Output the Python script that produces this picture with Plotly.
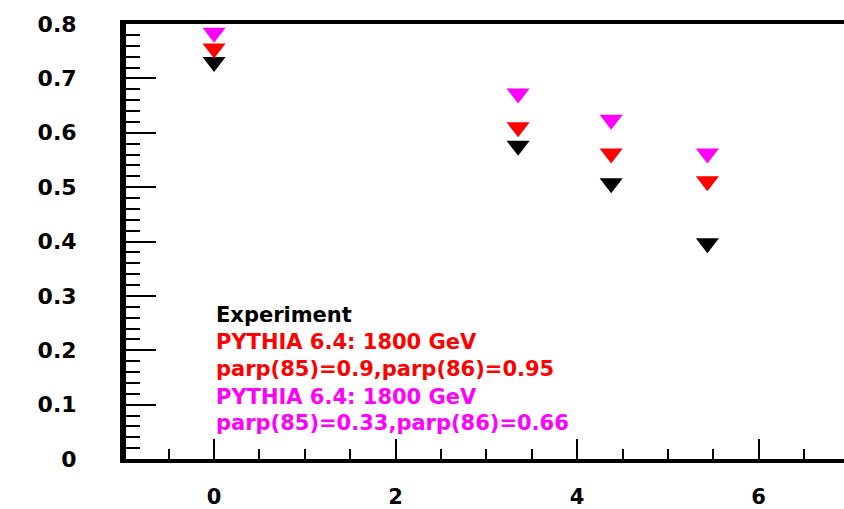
import plotly.graph_objects as go

# Measured points (x, fraction) for data and two PYTHIA tunes
x_vals = [0.0, 3.35, 4.375, 5.435]
experiment = [0.730, 0.576, 0.507, 0.397]
pythia_tune_a = [0.755, 0.610, 0.562, 0.511]
pythia_tune_b = [0.784, 0.672, 0.624, 0.562]

series = [
    ("Experiment", experiment, "#000000", ["Experiment"]),
    ("PYTHIA 6.4: 1800 GeV parp(85)=0.9,parp(86)=0.95", pythia_tune_a, "#ff0000",
     ["PYTHIA 6.4: 1800 GeV", "parp(85)=0.9,parp(86)=0.95"]),
    ("PYTHIA 6.4: 1800 GeV parp(85)=0.33,parp(86)=0.66", pythia_tune_b, "#ff00ff",
     ["PYTHIA 6.4: 1800 GeV", "parp(85)=0.33,parp(86)=0.66"]),
]

FONT = "DejaVu Sans"

fig = go.Figure()
for name, yv, color, _ in series:
    fig.add_trace(go.Scatter(
        x=x_vals, y=yv, mode="markers", name=name,
        marker=dict(symbol="triangle-down", size=20, color=color, line=dict(width=0)),
        showlegend=False,
    ))

# Text-only key in the lower left of the frame
line_y = [0.264, 0.215, 0.166, 0.114, 0.066]
k = 0
for name, yv, color, lines in series:
    for txt in lines:
        fig.add_annotation(
            x=0.0, y=line_y[k], xref="x", yref="y", text=txt, showarrow=False,
            xanchor="left", yanchor="middle",
            font=dict(family=FONT, size=21, color=color, weight="bold"),
        )
        k += 1

fig.update_xaxes(
    range=[-0.97, 6.94], showgrid=False, zeroline=False, automargin=False,
    showline=True, linecolor="black", linewidth=4, mirror=True,
    tickmode="linear", tick0=0, dtick=2,
    ticks="inside", ticklen=20, tickwidth=2, tickcolor="black",
    minor=dict(ticks="inside", dtick=0.5, ticklen=10, tickwidth=2, tickcolor="black"),
    tickfont=dict(family=FONT, size=21, color="black", weight="bold"),
    ticklabelstandoff=16,
)
fig.update_yaxes(
    range=[0, 0.8], showgrid=False, zeroline=False, automargin=False,
    showline=True, linecolor="black", linewidth=6, mirror=False,
    tickmode="linear", tick0=0, dtick=0.1,
    ticks="inside", ticklen=30, tickwidth=2, tickcolor="black",
    minor=dict(ticks="inside", dtick=0.02, ticklen=14, tickwidth=2, tickcolor="black"),
    tickfont=dict(family=FONT, size=22, color="black", weight="bold"),
    ticklabelstandoff=39,
)
fig.update_layout(
    width=844, height=509,
    margin=dict(l=126, r=0, t=24, b=50, pad=0),
    paper_bgcolor="white", plot_bgcolor="white",
)
fig.write_html("out.html")
